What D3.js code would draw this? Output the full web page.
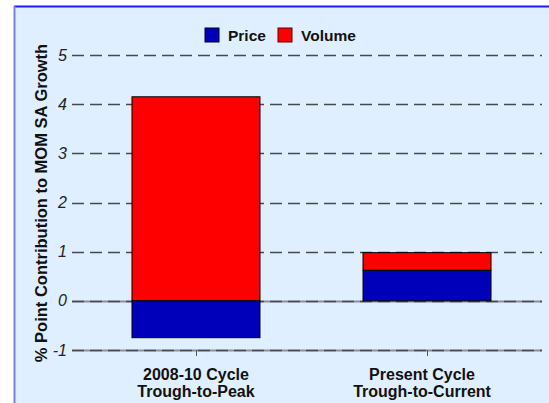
<!DOCTYPE html>
<html>
<head>
<meta charset="utf-8">
<script src="https://d3js.org/d3.v7.min.js"></script>
<style>
  body { margin: 0; background: #fff; }
  svg { display: block; font-family: "Liberation Sans", Arial, sans-serif; }
  .tick-label { font-style: italic; font-size: 16px; fill: #222; }
  .cat-label { font-weight: bold; font-size: 16px; fill: #111; }
  .legend text { font-weight: bold; font-size: 15.5px; fill: #111; }
</style>
</head>
<body>
<svg width="549" height="403"></svg>
<script>
// chart data
const categories = [["2008-10 Cycle", "Trough-to-Peak"], ["Present Cycle", "Trough-to-Current"]];
const priceValues = [-0.75, 0.62];
const volumeValues = [4.15, 0.36];
const yTicks = [-1, 0, 1, 2, 3, 4, 5];
const seriesNames = ["Price", "Volume"];
const seriesColors = ["#0000bb", "#ff0000"];

const svg = d3.select("svg");
const width = 549, height = 403;

// background panel
svg.append("rect").attr("x", 14).attr("y", 6).attr("width", width - 14).attr("height", height - 6)
  .attr("fill", "#dfefff");
svg.append("line").attr("x1", 14).attr("x2", width).attr("y1", 6.5).attr("y2", 6.5)
  .attr("stroke", "#1a1aff").attr("stroke-width", 2);
svg.append("line").attr("x1", 14.5).attr("x2", 14.5).attr("y1", 6).attr("y2", height)
  .attr("stroke", "#7a7aff").attr("stroke-width", 2);

const y = d3.scaleLinear().domain([-1, 5]).range([350, 55]);
const x = d3.scaleBand().domain(d3.range(categories.length)).range([80, 543])
  .paddingInner(0.446).paddingOuter(0.225);

const left = 72, right = 542;

// grid lines
const grid = svg.append("g");
yTicks.forEach(t => {
  if (t <= 0) {
    grid.append("line").attr("x1", left).attr("x2", right)
      .attr("y1", Math.round(y(t)) + 0.5).attr("y2", Math.round(y(t)) + 0.5)
      .attr("stroke", "#8a9099").attr("stroke-width", 2);
  }
  grid.append("line").attr("x1", left).attr("x2", right)
    .attr("y1", Math.round(y(t)) + 0.5).attr("y2", Math.round(y(t)) + 0.5)
    .attr("stroke", "#444a50").attr("stroke-width", 1.5)
    .attr("stroke-dasharray", "12,6");
  svg.append("text").attr("class", "tick-label")
    .attr("x", 67).attr("y", y(t)).attr("dy", "0.35em")
    .attr("text-anchor", "end").text(t);
});

// stacked bars
categories.forEach((c, i) => {
  const p = priceValues[i], v = volumeValues[i];
  const base = Math.max(p, 0);
  svg.append("rect").attr("x", x(i)).attr("width", x.bandwidth())
    .attr("y", y(base + v)).attr("height", y(base) - y(base + v))
    .attr("fill", seriesColors[1]).attr("stroke", "#000").attr("stroke-width", 1);
  svg.append("rect").attr("x", x(i)).attr("width", x.bandwidth())
    .attr("y", y(Math.max(p, 0))).attr("height", Math.abs(y(p) - y(0)))
    .attr("fill", seriesColors[0]).attr("stroke", "#000").attr("stroke-width", 1);

  const cx = x(i) + x.bandwidth() / 2;
  svg.append("line").attr("x1", Math.round(cx) + 0.5).attr("x2", Math.round(cx) + 0.5)
    .attr("y1", y(-1)).attr("y2", y(-1) + 6).attr("stroke", "#555");
  // the second label sits a little left of its tick in the original
  const lx = cx - (i === 1 ? 5 : 0);
  const lab = svg.append("text").attr("class", "cat-label").attr("text-anchor", "middle");
  c.forEach((line, j) => lab.append("tspan").attr("x", lx).attr("y", 380 + j * 17).text(line));
});

// y axis title
svg.append("text")
  .attr("transform", "translate(47," + 203 + ") rotate(-90)")
  .attr("text-anchor", "middle")
  .style("font-weight", "bold").style("font-size", "16.5px").attr("fill", "#111")
  .text("% Point Contribution to MOM SA Growth");

// legend
const legend = svg.append("g").attr("class", "legend");
const legendX = [205, 278];
seriesNames.forEach((s, i) => {
  legend.append("rect").attr("x", legendX[i]).attr("y", 28).attr("width", 14).attr("height", 14)
    .attr("fill", seriesColors[i]).attr("stroke", i ? "#660000" : "#000033");
  legend.append("text").attr("x", legendX[i] + 23).attr("y", 41).text(s);
});
</script>
</body>
</html>
